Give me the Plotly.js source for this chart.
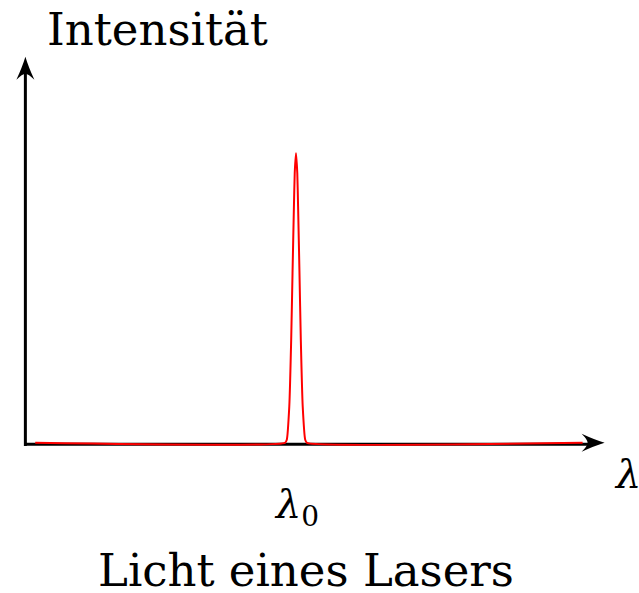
<!DOCTYPE html>
<html>
<head>
<meta charset="utf-8">
<script src="https://cdn.plot.ly/plotly-3.0.1.min.js"></script>
<style>
  html, body { margin: 0; padding: 0; background: #ffffff; }
  #chart { width: 639px; height: 593px; }
</style>
</head>
<body>
<div id="chart"></div>
<script>
// Emission spectrum of a laser: a single narrow line at lambda_0
const lambda0 = 4.672;
const wavelength = [0.17, 4.482, 4.513, 4.556, 4.589, 4.612, 4.636, 4.650, 4.672,
                    4.694, 4.708, 4.732, 4.755, 4.788, 4.831, 4.862, 9.62];
const intensity  = [0, 0, 0.008, 0.094, 0.267, 0.44, 0.612, 0.699, 0.75,
                    0.699, 0.612, 0.44, 0.267, 0.094, 0.008, 0, 0];

const yLabel = 'Intensität';
const xLabel = 'λ';
const peakLabel = '<i>λ</i><sub>0</sub>';
const caption = 'Licht eines Lasers';

const serif = 'DejaVu Serif';

const trace = {
  x: wavelength,
  y: intensity,
  type: 'scatter',
  mode: 'lines',
  line: { color: '#ff0000', width: 2, shape: 'spline', smoothing: 0.5 },
  hoverinfo: 'skip'
};

// arrowheads in pixel units, tip at the anchor point
const headRight = 'M 0 0 Q -10 3 -23 9 Q -17 3 -17 0 Q -17 -3 -23 -9 Q -10 -3 0 0 Z';
const headUp = 'M 0 0 Q -3 -10 -9 -23 Q -3 -17 0 -17 Q 3 -17 9 -23 Q 3 -10 0 0 Z';

const shapes = [
  // horizontal axis, just under the spectrum baseline
  { type: 'line', xref: 'x', x0: 0, x1: 9.72, yref: 'y', ysizemode: 'pixel', yanchor: 0,
    y0: -1.5, y1: -1.5, line: { color: '#000000', width: 3 }, layer: 'below' },
  // vertical axis
  { type: 'line', xref: 'x', x0: 0, x1: 0, yref: 'y', y0: -0.008, y1: 0.96,
    line: { color: '#000000', width: 3 }, layer: 'below' },
  { type: 'path', xref: 'x', xsizemode: 'pixel', xanchor: 10, yref: 'y', ysizemode: 'pixel', yanchor: 0,
    path: headRight, fillcolor: '#000000', line: { width: 0 } },
  { type: 'path', xref: 'x', xsizemode: 'pixel', xanchor: 0, yref: 'y', ysizemode: 'pixel', yanchor: 1,
    path: headUp, fillcolor: '#000000', line: { width: 0 } }
];

const annotations = [
  { text: yLabel, xref: 'paper', yref: 'paper', x: 0.0603, y: 1.0472, xanchor: 'left', yanchor: 'middle',
    showarrow: false, font: { family: serif, size: 45, color: '#000000' } },
  { text: caption, xref: 'paper', yref: 'paper', x: 0.4854, y: -0.25, xanchor: 'center', yanchor: 'middle',
    showarrow: false, font: { family: serif, size: 45, color: '#000000' } },
  { text: peakLabel, xref: 'x', yref: 'paper', x: lambda0, y: -0.0972, xanchor: 'center', yanchor: 'middle',
    showarrow: false, font: { family: serif, size: 40, color: '#000000' } },
  { text: '<i>' + xLabel + '</i>', xref: 'paper', yref: 'paper', x: 0.9835, y: -0.018, xanchor: 'left', yanchor: 'middle',
    showarrow: false, font: { family: serif, size: 40, color: '#000000' } }
];

const hidden = { showgrid: false, zeroline: false, showline: false, showticklabels: false, ticks: '', fixedrange: true };

const layout = {
  width: 639,
  height: 593,
  margin: { l: 7.6, r: 16.6, t: 49.28, b: 126.84, pad: 0 },
  paper_bgcolor: '#ffffff',
  plot_bgcolor: '#ffffff',
  showlegend: false,
  xaxis: Object.assign({ range: [-0.3, 10.3] }, hidden),
  yaxis: Object.assign({ range: [-0.06, 1.02] }, hidden),
  shapes: shapes,
  annotations: annotations
};

Plotly.newPlot('chart', [trace], layout, { displayModeBar: false, staticPlot: true });
</script>
</body>
</html>
